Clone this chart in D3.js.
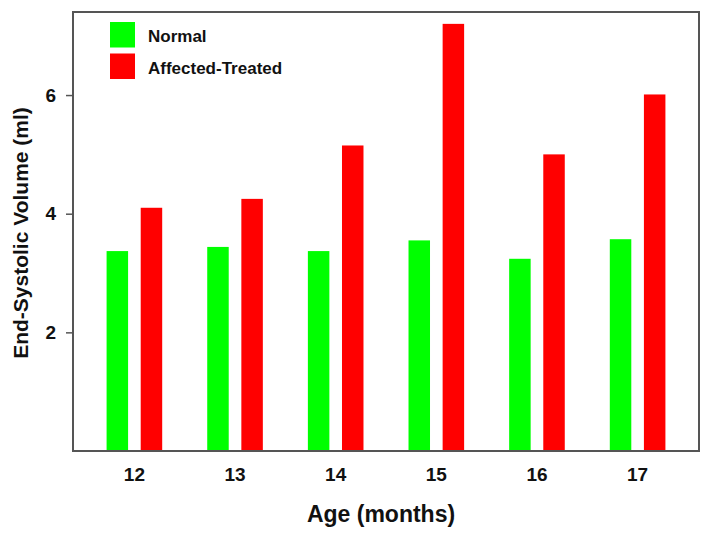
<!DOCTYPE html>
<html><head><meta charset="utf-8">
<script src="https://cdn.jsdelivr.net/npm/d3@7"></script>
<style>body{margin:0;background:#fff;} text{font-family:"Liberation Sans",Arial,sans-serif;font-weight:bold;}</style>
</head><body>
<svg id="c" width="712" height="537"></svg>
<script>
const ages = ["12","13","14","15","16","17"];
const series = ["Normal","Affected-Treated"];
const normal = [3.37, 3.44, 3.37, 3.55, 3.24, 3.57];
const affected = [4.10, 4.25, 5.15, 7.20, 5.00, 6.01];
const colors = ["#00ff00","#ff0000"];
const yTicks = [2,4,6];

const svg = d3.select("#c");
const L=73, R=699, T=12, B=451;
const x0 = d3.scaleBand().domain(ages).range([L,R]).paddingInner(0).paddingOuter(0.11);
const x1 = d3.scaleBand().domain(series).range([0,x0.bandwidth()]).paddingInner(0.37).paddingOuter(0.66);
const y = d3.scaleLinear().domain([0,7.4]).range([B,T]);
const vals = [normal, affected];

const g = svg.append("g");
ages.forEach((a,i)=>{
  series.forEach((s,j)=>{
    g.append("rect").attr("x", x0(a)+x1(s)).attr("width", x1.bandwidth())
     .attr("y", y(vals[j][i])).attr("height", B - y(vals[j][i])).attr("fill", colors[j]);
  });
});

svg.append("rect").attr("x",L).attr("y",T).attr("width",R-L).attr("height",B-T)
  .attr("fill","none").attr("stroke","#555").attr("stroke-width",2);

const ya = svg.append("g").attr("transform",`translate(${L-1},0)`)
  .call(d3.axisLeft(y).tickValues(yTicks).tickSize(6).tickPadding(10).tickFormat(d3.format("d")));
ya.select(".domain").remove();
ya.selectAll("line").attr("stroke","#555").attr("stroke-width",1.5);
ya.selectAll("text").style("font-size","19px").attr("fill","#111");

const xa = svg.append("g").attr("transform",`translate(0,${B})`)
  .call(d3.axisBottom(x0).tickSize(0).tickPadding(17));
xa.select(".domain").remove();
xa.selectAll("text").style("font-size","19px").attr("fill","#111");

svg.append("text").attr("x",381).attr("y",522).attr("text-anchor","middle")
  .style("font-size","23px").attr("fill","#111").text("Age (months)");
svg.append("text").attr("transform","translate(28,233) rotate(-90)").attr("text-anchor","middle")
  .style("font-size","21px").attr("fill","#111").text("End-Systolic Volume (ml)");

series.forEach((s,j)=>{
  svg.append("rect").attr("x",110).attr("y",22+j*31.5).attr("width",25).attr("height",25.5).attr("fill",colors[j]);
  svg.append("text").attr("x",148).attr("y",42+j*31.5).style("font-size","17px").attr("fill","#111").text(s);
});
</script>
</body></html>
